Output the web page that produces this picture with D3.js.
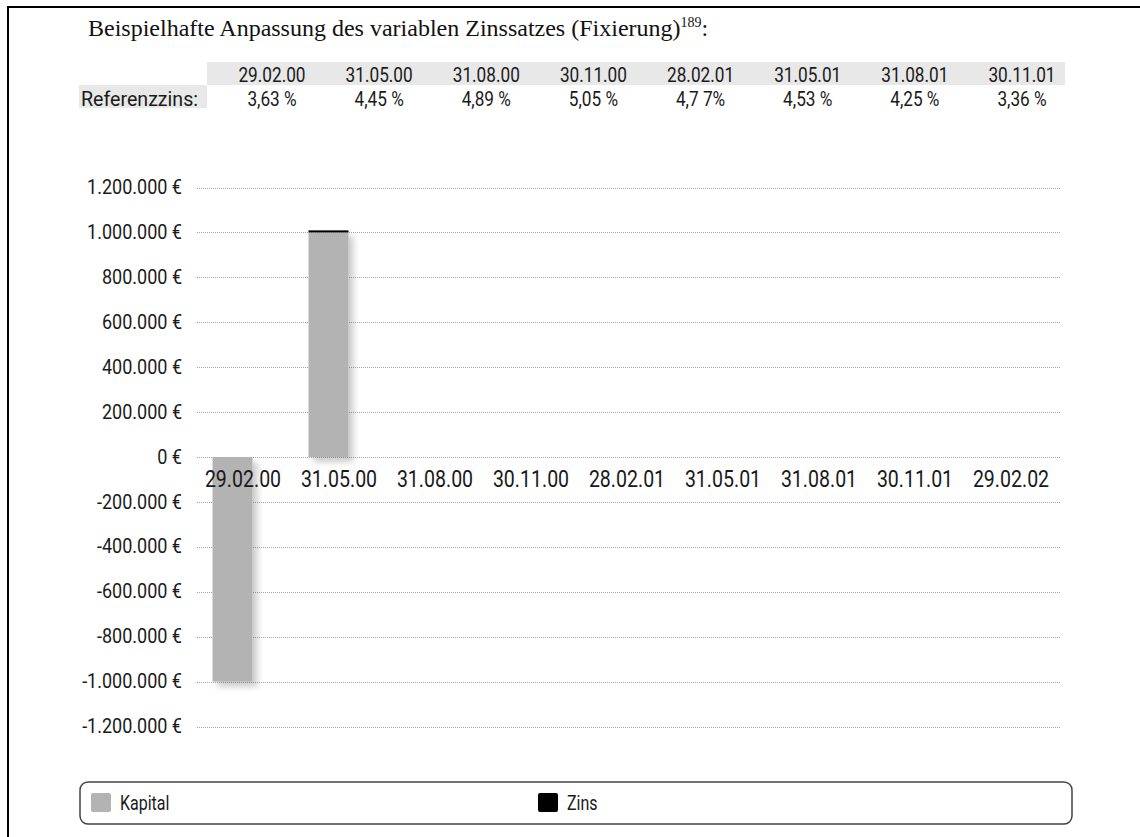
<!DOCTYPE html>
<html>
<head>
<meta charset="utf-8">
<script src="https://cdn.jsdelivr.net/npm/d3@7"></script>
<style>
  html, body { margin: 0; padding: 0; background: #fff; }
  svg { display: block; }
  .sans { font-family: Roboto, "Liberation Sans", sans-serif; fill: #1a1a1a; }
  .serif { font-family: "Liberation Serif", "Times New Roman", serif; fill: #111; }
</style>
</head>
<body>
<svg id="chart" width="1140" height="837"></svg>
<script>
// Fixing dates shown on the time axis
const axisDates = ["29.02.00", "31.05.00", "31.08.00", "30.11.00", "28.02.01", "31.05.01", "31.08.01", "30.11.01", "29.02.02"];
// Reference rate table (fixing date -> rate)
const rateDates = ["29.02.00", "31.05.00", "31.08.00", "30.11.00", "28.02.01", "31.05.01", "31.08.01", "30.11.01"];
const rateLabels = ["3,63 %", "4,45 %", "4,89 %", "5,05 %", "4,7 7%", "4,53 %", "4,25 %", "3,36 %"];
// Cash flows per date
const kapital = [-1000000, 1000000, 0, 0, 0, 0, 0, 0, 0];
const zins = [0, 9075, 0, 0, 0, 0, 0, 0, 0];
// Y axis ticks
const yTicks = [1200000, 1000000, 800000, 600000, 400000, 200000, 0, -200000, -400000, -600000, -800000, -1000000, -1200000];
const seriesNames = ["Kapital", "Zins"];
const seriesColors = ["#b3b3b3", "#000000"];

const svg = d3.select("#chart");

const de = d3.formatLocale({ decimal: ",", thousands: ".", grouping: [3], currency: ["", " €"], minus: "-" });
const fmt = v => de.format(",.0f")(v) + " €";

// Squeeze text horizontally to imitate a condensed face
function condense(sel, k) {
  sel.each(function () {
    const len = this.getComputedTextLength();
    d3.select(this).attr("textLength", len * k).attr("lengthAdjust", "spacingAndGlyphs");
  });
}

// Page frame
svg.append("line").attr("x1", 8).attr("x2", 1140).attr("y1", 7).attr("y2", 7).attr("stroke", "#000").attr("stroke-width", 2);
svg.append("line").attr("x1", 8).attr("x2", 8).attr("y1", 6).attr("y2", 837).attr("stroke", "#000").attr("stroke-width", 2);

// Title
const title = svg.append("text").attr("class", "serif").attr("x", 88).attr("y", 36).attr("font-size", 24);
title.append("tspan").text("Beispielhafte Anpassung des variablen Zinssatzes (Fixierung)");
title.append("tspan").attr("font-size", 14).attr("dy", -9).text("189");
title.append("tspan").attr("dy", 9).text(":");

// Reference rate table
const colX = d3.scalePoint().domain(rateDates).range([272, 1022]);
svg.append("rect").attr("x", 207).attr("y", 62).attr("width", 858).attr("height", 23).attr("fill", "#e8e8e8");
svg.append("rect").attr("x", 79).attr("y", 85).attr("width", 128).attr("height", 23).attr("fill", "#e8e8e8");

svg.append("g").selectAll("text").data(rateDates).join("text")
  .attr("class", "sans cond-t").attr("font-size", 20).attr("text-anchor", "middle")
  .attr("x", d => colX(d)).attr("y", 82).text(d => d);
svg.append("g").selectAll("text").data(rateLabels).join("text")
  .attr("class", "sans cond-t").attr("font-size", 20).attr("text-anchor", "middle")
  .attr("x", (d, i) => colX(rateDates[i])).attr("y", 106).text(d => d);
svg.append("text").attr("class", "sans cond-r").attr("font-size", 20)
  .attr("x", 81).attr("y", 106).text("Referenzzins:");

// Scales
const x = d3.scaleBand().domain(axisDates).range([197, 1061]);
const y = d3.scaleLinear().domain([-1200000, 1200000]).range([726.5, 187.5]);

// Grid lines
svg.append("g").selectAll("line").data(yTicks).join("line")
  .attr("x1", 197).attr("x2", 1061)
  .attr("y1", d => Math.round(y(d)) + 0.5).attr("y2", d => Math.round(y(d)) + 0.5)
  .attr("stroke", "#aaaaaa").attr("stroke-width", 1).attr("stroke-dasharray", "1,1");

// Y axis labels
svg.append("g").selectAll("text").data(yTicks).join("text")
  .attr("class", "sans cond-y").attr("font-size", 20).attr("text-anchor", "end")
  .attr("x", 182).attr("y", d => y(d)).attr("dy", "0.33em").text(d => fmt(d));

// Drop shadow for bars
const defs = svg.append("defs");
const f = defs.append("filter").attr("id", "shadow").attr("x", "-30%").attr("y", "-30%").attr("width", "170%").attr("height", "170%");
f.append("feGaussianBlur").attr("in", "SourceAlpha").attr("stdDeviation", 3).attr("result", "b");
f.append("feOffset").attr("in", "b").attr("dx", 5).attr("dy", 5).attr("result", "o");
f.append("feFlood").attr("flood-color", "#000").attr("flood-opacity", 0.2).attr("result", "c");
f.append("feComposite").attr("in", "c").attr("in2", "o").attr("operator", "in").attr("result", "s");
const m = f.append("feMerge");
m.append("feMergeNode").attr("in", "s");
m.append("feMergeNode").attr("in", "SourceGraphic");

// Stacked bars
const rows = axisDates.map((d, i) => ({ date: d, Kapital: kapital[i], Zins: zins[i] }));
const stacked = d3.stack().keys(seriesNames).offset(d3.stackOffsetDiverging)(rows);
const barW = 40;
const bars = svg.append("g").attr("filter", "url(#shadow)");
stacked.forEach((s, si) => {
  bars.append("g").attr("fill", seriesColors[si]).selectAll("rect")
    .data(s.filter(p => p[1] - p[0] !== 0)).join("rect")
    .attr("x", p => x(p.data.date) + x.bandwidth() / 2 - 32.5)
    .attr("width", barW)
    .attr("y", p => y(Math.max(p[0], p[1])))
    .attr("height", p => Math.abs(y(p[0]) - y(p[1])));
});

// X axis labels
svg.append("g").selectAll("text").data(axisDates).join("text")
  .attr("class", "sans cond-x").attr("font-size", 23).attr("text-anchor", "middle")
  .attr("x", d => x(d) + x.bandwidth() / 2 - 2).attr("y", 487).text(d => d);

// Legend
svg.append("rect").attr("x", 80).attr("y", 782).attr("width", 992).attr("height", 42)
  .attr("rx", 8).attr("ry", 8).attr("fill", "#fff").attr("stroke", "#444").attr("stroke-width", 1.5);
const legX = [91, 538];
const leg = svg.append("g").selectAll("g").data(seriesNames).join("g")
  .attr("transform", (d, i) => `translate(${legX[i]},793)`);
leg.append("rect").attr("width", 20).attr("height", 19).attr("rx", 2).attr("fill", (d, i) => seriesColors[i]);
leg.append("text").attr("class", "sans cond-l").attr("font-size", 20).attr("x", 29).attr("y", 17).text(d => d);

condense(svg.selectAll(".cond-t"), 0.86);
condense(svg.selectAll(".cond-r"), 0.98);
condense(svg.selectAll(".cond-y"), 0.9);
condense(svg.selectAll(".cond-x"), 0.85);
condense(svg.selectAll(".cond-l"), 0.8);
</script>
</body>
</html>
